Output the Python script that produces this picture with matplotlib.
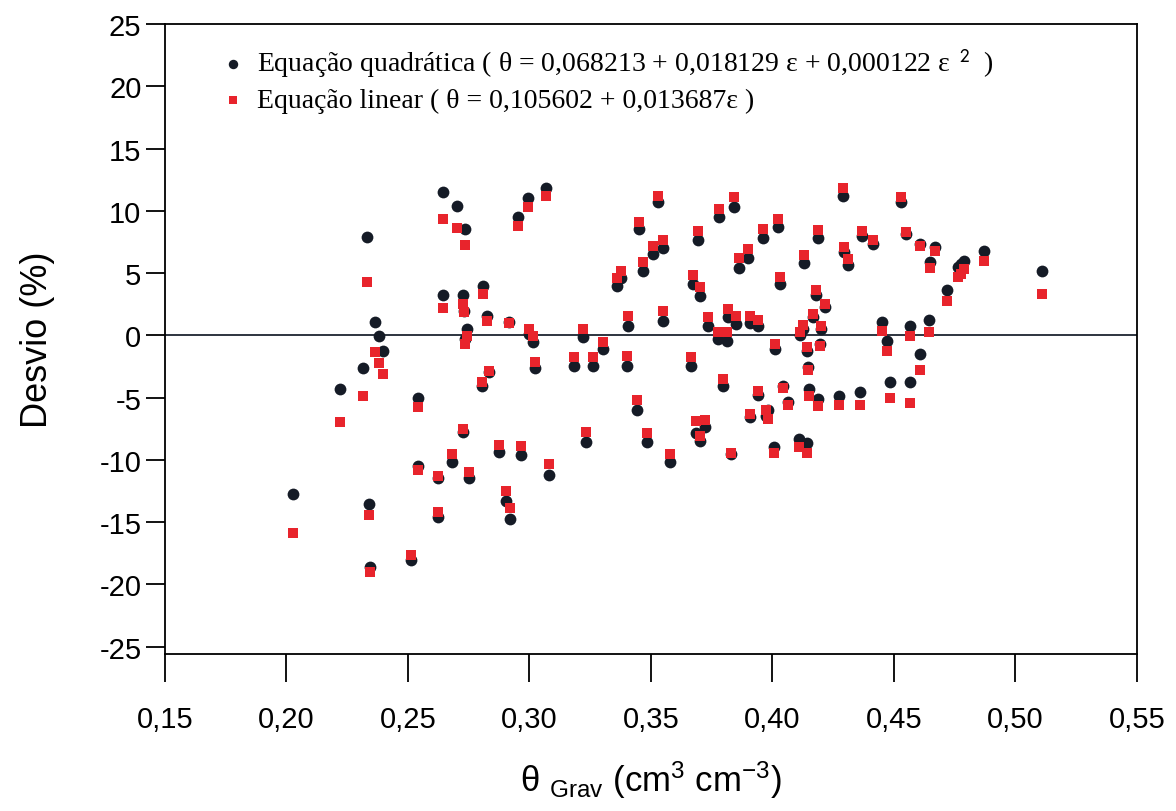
"""Desvio das equacoes de calibracao em funcao da umidade gravimetrica.
"""
import matplotlib
matplotlib.use('Agg')
import matplotlib.pyplot as plt
from matplotlib.font_manager import FontProperties
from matplotlib.ticker import FuncFormatter

plt.rcParams['font.family'] = ['Liberation Sans', 'DejaVu Sans']
plt.rcParams['axes.unicode_minus'] = False
plt.rcParams['mathtext.fontset'] = 'custom'
plt.rcParams['mathtext.rm'] = 'Liberation Sans'
plt.rcParams['mathtext.it'] = 'Liberation Sans:italic'

# theta gravimetrico (cm3 cm-3)
theta = [
    0.2027, 0.2220, 0.2315, 0.2331, 0.2340, 0.2344, 0.2364, 0.2381, 0.2397, 0.2512,
    0.2541, 0.2541, 0.2623, 0.2623, 0.2644, 0.2644, 0.2681, 0.2702, 0.2726, 0.2726,
    0.2735, 0.2730, 0.2743, 0.2735, 0.2751, 0.2805, 0.2809, 0.2825, 0.2833, 0.2874,
    0.2903, 0.2916, 0.2920, 0.2953, 0.2965, 0.2994, 0.2998, 0.3014, 0.3023, 0.3068,
    0.3080, 0.3183, 0.3220, 0.3233, 0.3261, 0.3302, 0.3360, 0.3377, 0.3401, 0.3405,
    0.3442, 0.3451, 0.3467, 0.3484, 0.3508, 0.3529, 0.3549, 0.3549, 0.3578, 0.3665,
    0.3673, 0.3685, 0.3693, 0.3702, 0.3702, 0.3722, 0.3735, 0.3776, 0.3780, 0.3796,
    0.3817, 0.3813, 0.3829, 0.3842, 0.3850, 0.3862, 0.3899, 0.3907, 0.3907, 0.3940,
    0.3940, 0.3961, 0.3973, 0.3981, 0.4006, 0.4010, 0.4023, 0.4031, 0.4043, 0.4064,
    0.4109, 0.4113, 0.4126, 0.4130, 0.4142, 0.4142, 0.4146, 0.4150, 0.4167, 0.4179,
    0.4187, 0.4187, 0.4195, 0.4199, 0.4216, 0.4274, 0.4290, 0.4294, 0.4311, 0.4360,
    0.4368, 0.4414, 0.4451, 0.4471, 0.4484, 0.4529, 0.4549, 0.4566, 0.4566, 0.4607,
    0.4607, 0.4644, 0.4648, 0.4669, 0.4718, 0.4763, 0.4776, 0.4788, 0.4870, 0.5109,
]

# desvio (%) - equacao quadratica
desvio_quad = [
    -12.72, -4.29, -2.61, 7.91, -13.52, -18.58, 1.08, -0.04, -1.24, -18.02,
    -5.02, -10.47, -11.44, -14.57, 11.52, 3.25, -10.15, 10.39, 3.25, -7.74,
    8.55, 1.97, 0.52, -0.28, -11.44, -4.05, 3.97, 1.57, -2.93, -9.35,
    -13.28, 1.08, -14.73, 9.51, -9.59, 11.04, 0.12, -0.52, -2.61, 11.84,
    -11.20, -2.45, -0.12, -8.55, -2.45, -1.08, 3.97, 4.61, -2.45, 0.76,
    -5.98, 8.55, 5.18, -8.55, 6.54, 10.71, 7.02, 1.16, -10.15, -2.45,
    4.13, -7.82, 7.66, 3.17, -8.47, -7.34, 0.76, -0.28, 9.51, -4.05,
    1.48, -0.44, -9.51, 10.31, 0.92, 5.42, 6.22, 1.00, -6.54, 0.76,
    -4.78, 7.83, -6.46, -5.98, -8.95, -1.08, 8.71, 4.13, -4.05, -5.34,
    -8.31, 0.04, 0.52, 5.82, -8.63, -1.24, -2.53, -4.29, 1.48, 3.25,
    7.83, -5.10, -0.68, 0.52, 2.29, -4.86, 11.20, 6.70, 5.66, -4.53,
    7.99, 7.34, 1.08, -0.44, -3.73, 10.71, 8.15, -3.73, 0.76, -1.48,
    7.34, 1.24, 5.90, 7.10, 3.65, 5.50, 5.74, 5.98, 6.78, 5.18,
]

# desvio (%) - equacao linear
desvio_lin = [
    -15.85, -6.94, -4.86, 4.29, -14.41, -18.98, -1.32, -2.21, -3.09, -17.62,
    -5.74, -10.79, -11.28, -14.16, 9.35, 2.21, -9.51, 8.63, 2.53, -7.50,
    7.26, 1.89, -0.04, -0.68, -10.95, -3.73, 3.33, 1.16, -2.85, -8.79,
    -12.48, 1.00, -13.84, 8.79, -8.87, 10.31, 0.52, -0.04, -2.13, 11.20,
    -10.31, -1.73, 0.52, -7.74, -1.73, -0.52, 4.61, 5.18, -1.65, 1.57,
    -5.18, 9.07, 5.90, -7.82, 7.18, 11.20, 7.66, 1.97, -9.51, -1.73,
    4.86, -6.86, 8.39, 3.89, -8.07, -6.78, 1.48, 0.28, 10.15, -3.49,
    2.13, 0.28, -9.43, 11.12, 1.57, 6.22, 6.94, 1.57, -6.30, 1.24,
    -4.45, 8.55, -5.98, -6.70, -9.43, -0.68, 9.35, 4.70, -4.21, -5.58,
    -8.95, 0.28, 0.84, 6.46, -9.43, -0.92, -2.77, -4.86, 1.73, 3.65,
    8.47, -5.66, -0.84, 0.76, 2.53, -5.58, 11.84, 7.10, 6.14, -5.58,
    8.39, 7.66, 0.36, -1.24, -5.02, 11.12, 8.31, -5.42, -0.04, -2.77,
    7.18, 0.28, 5.42, 6.78, 2.77, 4.70, 4.94, 5.34, 5.98, 3.33,
]

x_ticks = [0.15, 0.20, 0.25, 0.30, 0.35, 0.40, 0.45, 0.50, 0.55]
y_ticks = [-25, -20, -15, -10, -5, 0, 5, 10, 15, 20, 25]

label_quad = ('Equação quadrática ( θ = 0,068213 + 0,018129 ε + 0,000122 ε'
              r'$^{\mathsf{\ \ 2}}$  )')
label_lin = 'Equação linear ( θ = 0,105602 + 0,013687ε )'

fig = plt.figure(figsize=(11.76, 8.12), dpi=100)
ax = fig.add_axes([0.1403, 0.1933, 0.8265, 0.7757])

ax.axhline(0, color='#1c2430', linewidth=1.3, zorder=1)
ax.scatter(theta, desvio_quad, s=72, marker='o', color='#151b26',
           linewidths=0, zorder=2, label=label_quad)
ax.scatter(theta, desvio_lin, s=54, marker='s', color='#e8242c',
           linewidths=0, zorder=3, label=label_lin)

ax.set_xlim(0.15, 0.55)
ax.set_ylim(-25.6, 25)
ax.set_xticks(x_ticks)
ax.set_yticks(y_ticks)
ax.xaxis.set_major_formatter(FuncFormatter(lambda v, p: f'{v:.2f}'.replace('.', ',')))
ax.tick_params(axis='x', direction='out', length=20, width=1.3, pad=17, labelsize=21)
ax.tick_params(axis='y', direction='out', length=14, width=1.3, pad=3, labelsize=21)
for s in ax.spines.values():
    s.set_linewidth(1.3)

ax.set_ylabel('Desvio (%)', fontsize=26, labelpad=32)
ax.set_xlabel(r'θ $_{\mathrm{Grav}}$ (cm$^{3}$ cm$^{-3}$)', fontsize=25, labelpad=18)

leg_font = FontProperties(family=['Liberation Serif', 'DejaVu Serif'], size=20,
                          math_fontfamily='stix')
ax.legend(loc='upper left', bbox_to_anchor=(0.03, 1.005), frameon=False,
          prop=leg_font, handletextpad=0.35, labelspacing=0.32,
          markerscale=0.8, handlelength=1.0)

fig.savefig('out.png', dpi=100)
